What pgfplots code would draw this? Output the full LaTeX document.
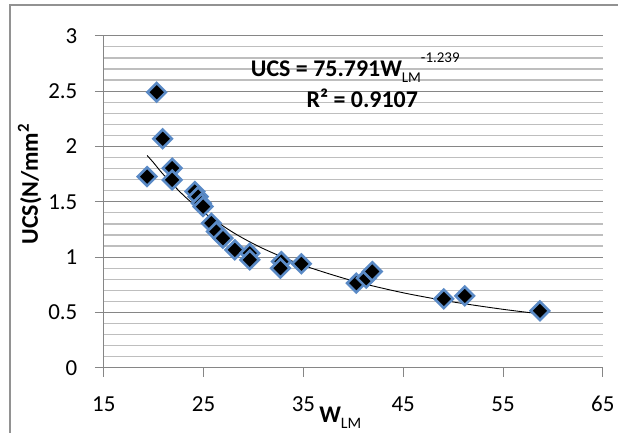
\documentclass[border=0pt]{standalone}
\usepackage{pgfplots}
\pgfplotsset{compat=1.18}
\usepackage{fontspec}
\setmainfont{Carlito}
\definecolor{mkblue}{HTML}{5A8AC6}
\definecolor{majg}{HTML}{868686}
\definecolor{ming}{HTML}{BEBEBE}
\begin{document}
\begin{tikzpicture}[x=1bp,y=1bp]
\path[use as bounding box] (0,0) rectangle (618,432);
\draw[majg!90, line width=2bp] (10,-20) -- (10,427) -- (640,427);
\begin{axis}[
  at={(104,58)}, anchor=south west,
  scale only axis, width=499bp, height=332bp,
  xmin=15, xmax=65, ymin=0, ymax=3,
  xtick={15,25,...,65}, ytick={0,0.5,...,3},
  minor y tick num=4,
  ymajorgrids, yminorgrids,
  major grid style={draw=majg, line width=1.2bp},
  minor grid style={draw=ming, line width=1.2bp},
  axis lines*=left,
  axis line style={draw=majg, line width=1bp, -},
  tick align=outside,
  major tick length=9bp, minor tick length=0pt,
  every tick/.style={draw=majg, line width=1bp},
  /pgf/number format/assume math mode=true,
  tick label style={font=\fontsize{23}{26}\selectfont, text=black},
  yticklabel style={anchor=east, xshift=-14bp},
  xticklabel style={anchor=north, yshift=-16bp},
  clip=false,
]
\addplot[black, line width=0.9bp, smooth] coordinates {
(19.34,1.919) (20,1.852) (21,1.7435) (23,1.5576) (25,1.4046) (28,1.2207)
(31,1.0761) (35,0.9259) (40,0.7847) (45,0.6780) (50,0.5951) (55,0.5287) (58.8,0.4868)};
\addplot[only marks, mark=square*, mark size=6.5bp,
  mark options={rotate=45, fill=black, draw=mkblue, line width=2.6bp}] coordinates {
(19.34,1.728) (20.3,2.49) (20.9,2.07) (21.85,1.804) (21.85,1.698)
(24.12,1.593) (24.45,1.547) (24.78,1.487) (24.95,1.457)
(25.78,1.307) (26.28,1.231) (26.94,1.171) (28.13,1.066)
(29.63,1.036) (29.63,0.976) (32.8,0.960) (32.7,0.90) (34.8,0.94)
(40.3,0.765) (41.3,0.81) (41.9,0.87)
(49.07,0.623) (51.17,0.650) (58.7,0.515)};
\node[anchor=base, inner sep=0pt, font=\fontsize{24}{26}\selectfont] at (axis cs:40.2,2.63)
  {\bfseries UCS = 75.791W\raisebox{-0.25em}{\fontsize{15}{15}\selectfont\mdseries LM}\raisebox{0.6em}{\fontsize{15}{15}\selectfont\mdseries -1.239}};
\node[anchor=base, inner sep=0pt, font=\fontsize{24}{26}\selectfont\bfseries] at (axis cs:40.9,2.35)
  {R² = 0.9107};
\node[anchor=base, inner sep=0pt, font=\fontsize{24}{26}\selectfont\bfseries] at (axis cs:38.7,-0.49)
  {W\raisebox{-0.25em}{\fontsize{16}{16}\selectfont\mdseries LM}};
\node[anchor=base, rotate=90, inner sep=0pt, font=\fontsize{24}{26}\selectfont\bfseries] at (axis cs:8.4,1.66)
  {UCS(N/mm\textsuperscript{2}};
\end{axis}
\end{tikzpicture}
\end{document}
